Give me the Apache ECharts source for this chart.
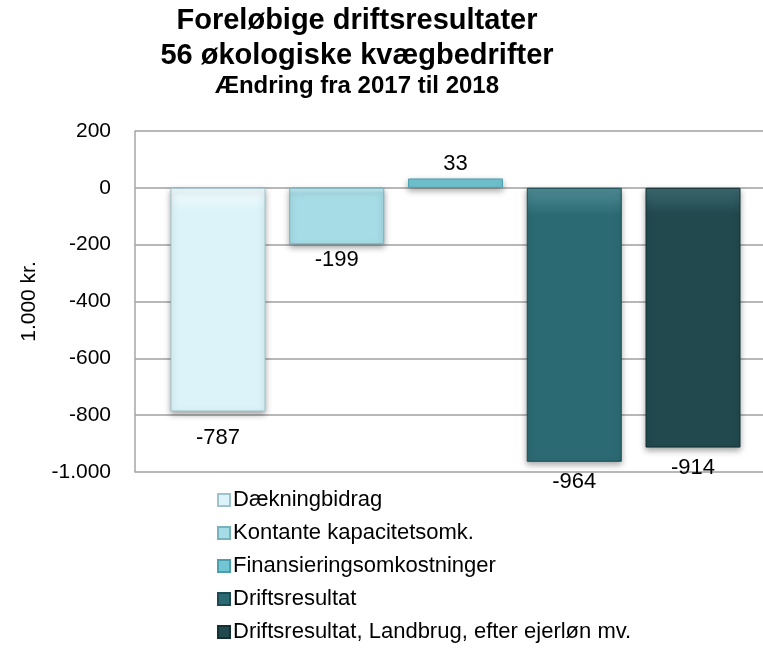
<!DOCTYPE html>
<html>
<head>
<meta charset="utf-8">
<script src="https://cdn.jsdelivr.net/npm/echarts@6/dist/echarts.min.js"></script>
<style>
  html, body { margin: 0; padding: 0; background: #fff; }
  #chart { width: 763px; height: 667px; }
</style>
</head>
<body>
<div id="chart"></div>
<script>
// data
var seriesNames = ['Dækningbidrag', 'Kontante kapacitetsomk.', 'Finansieringsomkostninger', 'Driftsresultat', 'Driftsresultat, Landbrug, efter ejerløn mv.'];
var values = [-787, -199, 33, -964, -914];
var yTicks = { min: -1000, max: 200, step: 200 };

var colors = ['#dcf4f9', '#a6dce6', '#72c6d4', '#2c6a73', '#21494e'];
var lighter = ['#f2fbfd', '#c8edf3', '#9fdbe5', '#4f8d96', '#3c6a70'];
var edges = ['#9fc3ca', '#78b2bd', '#4d9fae', '#1c4c53', '#133034'];
var labelGap = [15, 5, 4, 9, 9];
var FONT = '"Liberation Sans", Arial, sans-serif';

function fmt(v) {
  // dansk tusindtalsseparator
  var s = Math.abs(v).toString().replace(/\B(?=(\d{3})+(?!\d))/g, '.');
  return (v < 0 ? '-' : '') + s;
}

function shade(c, top) {
  return {
    type: 'linear', x: 0, y: 0, x2: 0, y2: 1,
    colorStops: [
      { offset: 0, color: top },
      { offset: 0.1, color: c },
      { offset: 1, color: c }
    ]
  };
}

var series = seriesNames.map(function (name, i) {
  return {
    name: name,
    type: 'bar',
    xAxisIndex: 0,
    yAxisIndex: 0,
    barWidth: 95,
    barGap: '25%',
    data: [values[i]],
    itemStyle: {
      color: shade(colors[i], lighter[i]),
      borderColor: edges[i],
      borderWidth: 1,
      shadowColor: 'rgba(0,0,0,0.35)',
      shadowBlur: 6,
      shadowOffsetY: 3
    },
    label: {
      show: true,
      position: values[i] < 0 ? 'bottom' : 'top',
      distance: labelGap[i],
      color: '#000',
      fontFamily: FONT,
      fontSize: 22,
      formatter: function (p) { return fmt(p.value); }
    }
  };
});

var option = {
  animation: false,
  backgroundColor: '#fff',
  textStyle: { fontFamily: FONT },
  title: [
    { text: 'Foreløbige driftsresultater', left: 352, top: 1, textAlign: 'center',
      textStyle: { fontFamily: FONT, fontSize: 29, fontWeight: 'bold', color: '#000' } },
    { text: '56 økologiske kvægbedrifter', left: 352, top: 36, textAlign: 'center',
      textStyle: { fontFamily: FONT, fontSize: 29, fontWeight: 'bold', color: '#000' } },
    { text: 'Ændring fra 2017 til 2018', left: 352, top: 69, textAlign: 'center',
      textStyle: { fontFamily: FONT, fontSize: 24, fontWeight: 'bold', color: '#000' } }
  ],
  legend: {
    orient: 'vertical',
    left: 212,
    top: 484,
    itemWidth: 12,
    itemHeight: 12,
    itemGap: 11,
    icon: 'rect',
    textStyle: { fontFamily: FONT, fontSize: 22, color: '#000', padding: [0, 0, 0, -2] },
    data: seriesNames
  },
  // grid 0: bars (lidt forskudt), grid 1: akse og gitterlinjer
  grid: [
    { left: 148, right: 0, top: 131, bottom: 195 },
    { left: 135, right: 0, top: 131, bottom: 195 }
  ],
  xAxis: [
    { type: 'category', gridIndex: 0, data: [''], show: false },
    { type: 'category', gridIndex: 1, data: [''],
      axisLine: { show: false }, axisTick: { show: false }, axisLabel: { show: false } }
  ],
  yAxis: [
    { type: 'value', gridIndex: 0, min: yTicks.min, max: yTicks.max, interval: yTicks.step, show: false },
    {
      type: 'value',
      gridIndex: 1,
      min: yTicks.min,
      max: yTicks.max,
      interval: yTicks.step,
      name: '1.000 kr.',
      nameLocation: 'middle',
      nameGap: 95,
      nameTextStyle: { fontFamily: FONT, fontSize: 21, color: '#000' },
      axisLine: { show: true, lineStyle: { color: '#a6a6a6', width: 1.5 } },
      axisTick: { show: false },
      axisLabel: {
        margin: 24,
        color: '#000',
        fontFamily: FONT,
        fontSize: 21,
        formatter: fmt
      },
      splitLine: { lineStyle: { color: '#a0a0a0', width: 1.5 } }
    }
  ],
  series: series
};

var myChart = echarts.init(document.getElementById('chart'));
myChart.setOption(option);
</script>
</body>
</html>
